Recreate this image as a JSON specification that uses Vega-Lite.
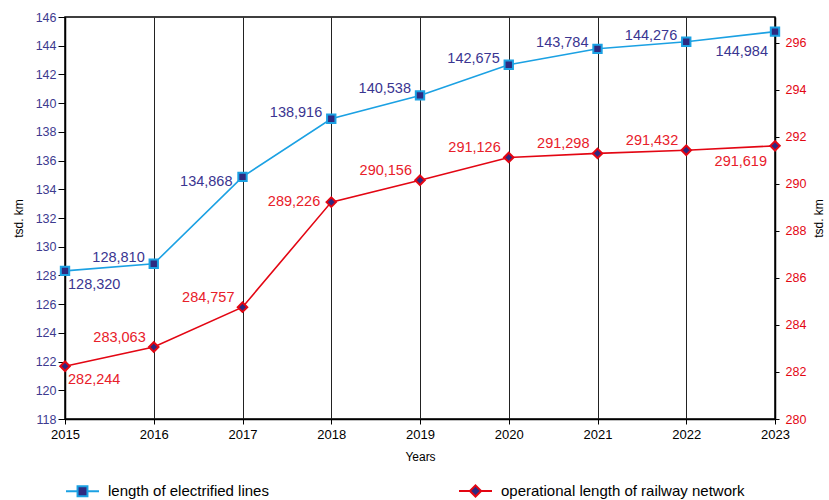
{
  "$schema": "https://vega.github.io/schema/vega-lite/v6.json",
  "width": 710,
  "height": 402,
  "autosize": {"type": "none"},
  "padding": {"left": 65, "top": 17, "right": 54, "bottom": 81},
  "background": "white",
  "config": {
    "font": "Liberation Sans",
    "view": {"stroke": "black", "strokeWidth": 1.5},
    "axis": {
      "domainColor": "black",
      "tickColor": "black",
      "labelFont": "Liberation Sans",
      "titleFont": "Liberation Sans",
      "titleFontWeight": "normal",
      "titleColor": "black"
    }
  },
  "data": {
    "values": [
      {"year": 2015, "series": "length of electrified lines", "value": 128.320, "label": "128,320"},
      {"year": 2016, "series": "length of electrified lines", "value": 128.810, "label": "128,810"},
      {"year": 2017, "series": "length of electrified lines", "value": 134.868, "label": "134,868"},
      {"year": 2018, "series": "length of electrified lines", "value": 138.916, "label": "138,916"},
      {"year": 2019, "series": "length of electrified lines", "value": 140.538, "label": "140,538"},
      {"year": 2020, "series": "length of electrified lines", "value": 142.675, "label": "142,675"},
      {"year": 2021, "series": "length of electrified lines", "value": 143.784, "label": "143,784"},
      {"year": 2022, "series": "length of electrified lines", "value": 144.276, "label": "144,276"},
      {"year": 2023, "series": "length of electrified lines", "value": 144.984, "label": "144,984"},
      {"year": 2015, "series": "operational length of railway network", "value": 282.244, "label": "282,244"},
      {"year": 2016, "series": "operational length of railway network", "value": 283.063, "label": "283,063"},
      {"year": 2017, "series": "operational length of railway network", "value": 284.757, "label": "284,757"},
      {"year": 2018, "series": "operational length of railway network", "value": 289.226, "label": "289,226"},
      {"year": 2019, "series": "operational length of railway network", "value": 290.156, "label": "290,156"},
      {"year": 2020, "series": "operational length of railway network", "value": 291.126, "label": "291,126"},
      {"year": 2021, "series": "operational length of railway network", "value": 291.298, "label": "291,298"},
      {"year": 2022, "series": "operational length of railway network", "value": 291.432, "label": "291,432"},
      {"year": 2023, "series": "operational length of railway network", "value": 291.619, "label": "291,619"}
    ]
  },
  "encoding": {
    "x": {
      "field": "year",
      "type": "quantitative",
      "scale": {"domain": [2015, 2023], "nice": false, "zero": false},
      "axis": {
        "values": [2015, 2016, 2017, 2018, 2019, 2020, 2021, 2022, 2023],
        "format": "d",
        "grid": true,
        "gridColor": "#222222",
        "gridWidth": 1,
        "title": "Years",
        "titleFontSize": 12,
        "labelFontSize": 13,
        "labelColor": "black",
        "labelFlush": false,
        "labelBound": false,
        "labelOverlap": false,
        "tickSize": 5,
        "labelPadding": 4,
        "titlePadding": 10,
        "domainWidth": 1.5
      }
    }
  },
  "layer": [
    {
      "transform": [{"filter": "datum.series === 'length of electrified lines'"}],
      "encoding": {
        "y": {
          "field": "value",
          "type": "quantitative",
          "scale": {"domain": [118, 146], "nice": false, "zero": false},
          "axis": {
            "orient": "left",
            "values": [118, 120, 122, 124, 126, 128, 130, 132, 134, 136, 138, 140, 142, 144, 146],
            "title": "tsd. km",
            "labelColor": "#3d3a8f",
            "labelFontSize": 12.5,
            "tickSize": 7,
            "labelPadding": 2,
            "titleFontSize": 12,
            "titlePadding": 10,
            "grid": false,
            "domainWidth": 1.5
          }
        }
      },
      "layer": [
        {
          "mark": {"type": "line", "strokeWidth": 1.6},
          "encoding": {
            "color": {
              "field": "series",
              "type": "nominal",
              "scale": {
                "domain": ["length of electrified lines", "operational length of railway network"],
                "range": ["#1ba1e3", "#e30613"]
              },
              "legend": {
                "title": null,
                "orient": "none",
                "legendX": 0,
                "legendY": 456,
                "direction": "horizontal",
                "columns": 2,
                "columnPadding": 186,
                "labelFontSize": 15,
                "labelColor": "black",
                "labelFont": "Liberation Sans",
                "labelLimit": 0,
                "labelOffset": 8,
                "symbolSize": 1089,
                "symbolStrokeWidth": 2,
                "encode": {
                  "symbols": {
                    "update": {
                      "shape": {"signal": "datum.value === 'length of electrified lines' ? 'M-1,0H-0.3M0.3,0H1M-0.3,-0.3H0.3V0.3H-0.3Z' : 'M-1,0H-0.34M0.34,0H1M0,-0.34L0.34,0L0,0.34L-0.34,0Z'"},
                      "fill": {"value": "#2e2a80"},
                      "opacity": {"value": 1}
                    }
                  }
                }
              }
            }
          }
        },
        {
          "mark": {"type": "point", "shape": "square", "filled": true, "fill": "#2e2a80", "stroke": "#1ba1e3", "strokeWidth": 2, "size": 70, "opacity": 1}
        },
        {
          "transform": [{"filter": {"field": "year", "oneOf": [2016, 2018, 2019, 2020, 2021, 2022]}}],
          "mark": {"type": "text", "align": "right", "baseline": "middle", "dx": -9, "dy": -6, "fontSize": 14.5, "color": "#3a3591"},
          "encoding": {"text": {"field": "label"}}
        },
        {
          "transform": [{"filter": {"field": "year", "oneOf": [2017]}}],
          "mark": {"type": "text", "align": "right", "baseline": "middle", "dx": -10, "dy": 5, "fontSize": 14.5, "color": "#3a3591"},
          "encoding": {"text": {"field": "label"}}
        },
        {
          "transform": [{"filter": {"field": "year", "oneOf": [2015]}}],
          "mark": {"type": "text", "align": "left", "baseline": "middle", "dx": 3, "dy": 14, "fontSize": 14.5, "color": "#3a3591"},
          "encoding": {"text": {"field": "label"}}
        },
        {
          "transform": [{"filter": {"field": "year", "oneOf": [2023]}}],
          "mark": {"type": "text", "align": "right", "baseline": "middle", "dx": -7, "dy": 20, "fontSize": 14.5, "color": "#3a3591"},
          "encoding": {"text": {"field": "label"}}
        }
      ]
    },
    {
      "transform": [{"filter": "datum.series === 'operational length of railway network'"}],
      "encoding": {
        "y": {
          "field": "value",
          "type": "quantitative",
          "scale": {"domain": [280, 297.1], "nice": false, "zero": false},
          "axis": {
            "orient": "right",
            "values": [280, 282, 284, 286, 288, 290, 292, 294, 296],
            "title": "tsd. km",
            "titleAngle": 270,
            "titleBaseline": "top",
            "labelColor": "#e30613",
            "labelFontSize": 12.5,
            "tickSize": 4,
            "labelPadding": 6,
            "titleFontSize": 12,
            "titlePadding": 8,
            "grid": false,
            "domainWidth": 1.5
          }
        }
      },
      "layer": [
        {
          "mark": {"type": "line", "strokeWidth": 1.6},
          "encoding": {
            "color": {"field": "series", "type": "nominal"}
          }
        },
        {
          "mark": {"type": "point", "shape": "diamond", "filled": true, "fill": "#2e2a80", "stroke": "#e30613", "strokeWidth": 2, "size": 90, "opacity": 1}
        },
        {
          "transform": [{"filter": {"field": "year", "oneOf": [2016, 2017, 2019, 2020, 2021, 2022]}}],
          "mark": {"type": "text", "align": "right", "baseline": "middle", "dx": -8, "dy": -9, "fontSize": 14.5, "color": "#e8202a"},
          "encoding": {"text": {"field": "label"}}
        },
        {
          "transform": [{"filter": {"field": "year", "oneOf": [2018]}}],
          "mark": {"type": "text", "align": "right", "baseline": "middle", "dx": -11, "dy": 0, "fontSize": 14.5, "color": "#e8202a"},
          "encoding": {"text": {"field": "label"}}
        },
        {
          "transform": [{"filter": {"field": "year", "oneOf": [2015]}}],
          "mark": {"type": "text", "align": "left", "baseline": "middle", "dx": 3, "dy": 14, "fontSize": 14.5, "color": "#e8202a"},
          "encoding": {"text": {"field": "label"}}
        },
        {
          "transform": [{"filter": {"field": "year", "oneOf": [2023]}}],
          "mark": {"type": "text", "align": "right", "baseline": "middle", "dx": -8, "dy": 16, "fontSize": 14.5, "color": "#e8202a"},
          "encoding": {"text": {"field": "label"}}
        }
      ]
    }
  ],
  "resolve": {"scale": {"y": "independent"}}
}
